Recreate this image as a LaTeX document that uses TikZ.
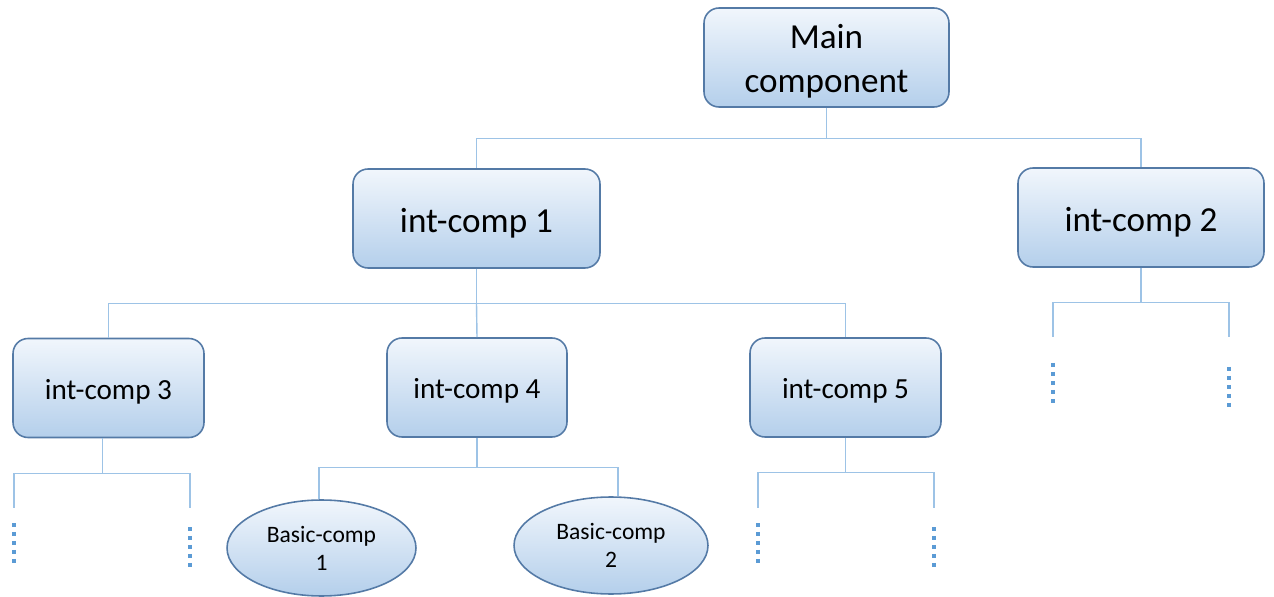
\documentclass[tikz,border=0pt]{standalone}
\usepackage{fontspec}
\setmainfont{Carlito}
\usetikzlibrary{shapes.geometric, calc}

\definecolor{compedge}{RGB}{84,122,166}
\definecolor{comptop}{RGB}{241,246,252}
\definecolor{compmid}{RGB}{196,218,240}
\definecolor{compbot}{RGB}{180,207,235}
\definecolor{linkblue}{RGB}{157,195,230}
\definecolor{dotblue}{RGB}{91,155,213}

\begin{document}
\begin{tikzpicture}[
		x={(0.02cm,0cm)}, y={(0cm,-0.02cm)}, % pixel grid, y pointing down
		comp/.style={draw=compedge, line width=0.9pt, rounded corners=0.3cm,
			top color=comptop, middle color=compmid, bottom color=compbot,
			minimum height=1.98cm, align=center, inner sep=0pt,
			execute at begin node={\rule{0pt}{0.93em}}},
		basic/.style={ellipse, draw=compedge, line width=0.9pt,
			top color=comptop, middle color=compmid, bottom color=compbot,
			align=center, inner sep=0pt, font=\fontsize{13.4}{16}\selectfont},
		big/.style={font=\fontsize{20}{25}\selectfont},
		mid/.style={font=\fontsize{16.6}{20}\selectfont},
		link/.style={draw=linkblue, line width=0.8pt},
		more/.style={draw=dotblue, line width=2.3pt, dash pattern=on 2.3pt off 2.8pt}
		]
		
		\useasboundingbox (0,0) rectangle (1274,597);
		
		% --- 1. Components ---
		\node[comp, big, minimum width=4.9cm] (main) at (826.5,57.5) {\rule{0pt}{0.9em}Main\\component};
		
		\node[comp, big, minimum width=4.94cm] (ic1) at (476.5,218.5) {int-comp 1};
		\node[comp, big, minimum width=4.92cm] (ic2) at (1141,217.5) {int-comp 2};
		
		\node[comp, mid, minimum width=3.82cm] (ic3) at (108.5,388) {int-comp 3};
		\node[comp, mid, minimum width=3.6cm] (ic4) at (477,387.5) {int-comp 4};
		\node[comp, mid, minimum width=3.82cm] (ic5) at (845.5,387.5) {int-comp 5};
		
		\node[basic, minimum width=3.78cm, minimum height=1.92cm] (bc1) at (321.5,548) {Basic-comp\\1};
		\node[basic, minimum width=3.88cm, minimum height=1.94cm] (bc2) at (611,545.5) {Basic-comp\\2};
		
		% --- 2. Open ends of the tree ---
		\coordinate (l2a) at (1053,337);
		\coordinate (l2b) at (1229,337);
		\coordinate (l3a) at (14,508);
		\coordinate (l3b) at (190,508);
		\coordinate (l5a) at (758,508);
		\coordinate (l5b) at (934,508);
		
		% --- 3. Connectors ---
		\draw[link] (main.south) -- ++(0,31) coordinate (b0) -| (ic1.north);
		\draw[link] (b0) -| (ic2.north);
		
		\draw[link] (ic1.south) -- ++(0,35) coordinate (b1) -| (ic3.north);
		\draw[link] (b1) -- (ic4.north);
		\draw[link] (b1) -| (ic5.north);
		
		\draw[link] (ic2.south) -- ++(0,35) coordinate (b2) -| (l2a);
		\draw[link] (b2) -| (l2b);
		
		\draw[link] ([xshift=-0.12cm]ic3.south) -- ++(0,35) coordinate (b3) -| (l3a);
		\draw[link] (b3) -| (l3b);
		
		\draw[link] (ic4.south) -- ++(0,30) coordinate (b4) -| ([xshift=-0.05cm]bc1.north);
		\draw[link] (b4) -| ([xshift=0.14cm]bc2.north);
		
		\draw[link] (ic5.south) -- ++(0,35) coordinate (b5) -| (l5a);
		\draw[link] (b5) -| (l5b);
		
		% --- 4. "more below" dots ---
		\draw[more] (1053,363) -- ++(0,40);
		\draw[more] (1229,367) -- ++(0,40);
		\draw[more] (14,523) -- ++(0,40);
		\draw[more] (190,527) -- ++(0,40);
		\draw[more] (758,523) -- ++(0,40);
		\draw[more] (934,527) -- ++(0,40);
		
	\end{tikzpicture}
\end{document}
